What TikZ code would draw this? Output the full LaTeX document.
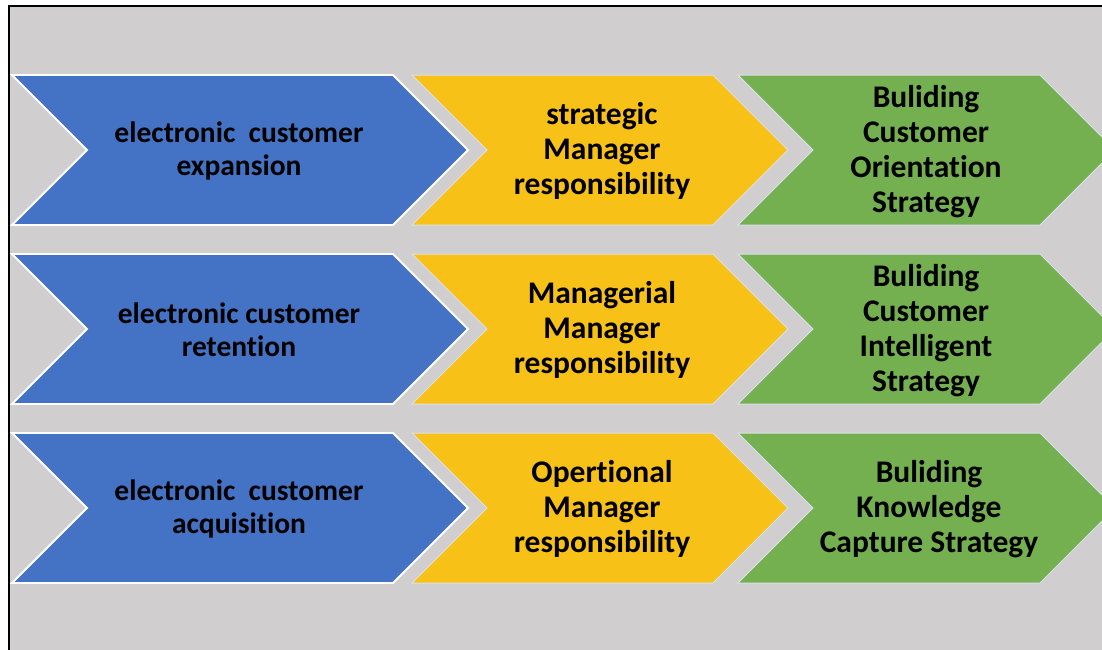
\documentclass[tikz,border=0pt]{standalone}
\usepackage{fontspec}
\setmainfont{Carlito}[Ligatures={NoCommon,NoContextual,NoRequired},Contextuals=NoAlternate]
\usepackage{tikz}
\usetikzlibrary{calc}

\definecolor{bggray}{HTML}{D0CECE}
\definecolor{chevblue}{HTML}{4472C4}
\definecolor{chevyellow}{HTML}{F8C118}
\definecolor{chevgreen}{HTML}{74AF50}
\definecolor{edgeline}{HTML}{DAE1EC}

\begin{document}
\begin{tikzpicture}[
    x=1pt, y=-1pt,
    frame/.style={draw=black, line width=1.5pt, fill=bggray},
    bluechev/.style={draw=white, line width=1.8pt, fill=chevblue},
    yellowchev/.style={draw=edgeline, line width=1pt, fill=chevyellow},
    greenchev/.style={draw=edgeline, line width=1pt, fill=chevgreen},
    bluetxt/.style={align=center, font=\bfseries\fontsize{29.5}{33}\selectfont},
    steptxt/.style={align=center, font=\bfseries\fontsize{31.5}{35}\selectfont}
]
\useasboundingbox (0,0) rectangle (1102,649);
\clip (0,0) rectangle (1102,649);
\fill[white] (0,0) rectangle (1102,649);

% Background panel
\draw[frame] (9,6) rectangle (1120,670);

% Chevrons, one row per level
\foreach \y in {75,254,433} {
    \draw[bluechev] (12,\y) -- (393,\y) -- (468,\y+75) -- (393,\y+150)
        -- (12,\y+150) -- (87,\y+75) -- cycle;
    \draw[yellowchev] (412,\y) -- (713,\y) -- (788,\y+75) -- (713,\y+150)
        -- (412,\y+150) -- (487,\y+75) -- cycle;
    \draw[greenchev] (738,\y) -- (1040,\y) -- (1115,\y+75) -- (1040,\y+150)
        -- (738,\y+150) -- (813,\y+75) -- cycle;
}

% Row 1
\node[bluetxt] (expansion) at (239,151) {electronic\ \ customer\\expansion};
\node[steptxt] (strategic) at (602,151) {strategic\\Manager\\responsibility};
\node[steptxt] (orientation) at (926,152) {Buliding\\Customer\\Orientation\\Strategy};

% Row 2
\node[bluetxt] (retention) at (239,330) {electronic customer\\retention};
\node[steptxt] (managerial) at (602,330) {Managerial\\Manager\\responsibility};
\node[steptxt] (intelligent) at (926,331) {Buliding\\Customer\\Intelligent\\Strategy};

% Row 3
\node[bluetxt] (acquisition) at (239,509) {electronic\ \ customer\\acquisition};
\node[steptxt] (opertional) at (602,509) {Opertional\\Manager\\responsibility};
\node[steptxt] (knowledge) at (929,509) {Buliding\\Knowledge\\Capture Strategy};

\end{tikzpicture}
\end{document}
